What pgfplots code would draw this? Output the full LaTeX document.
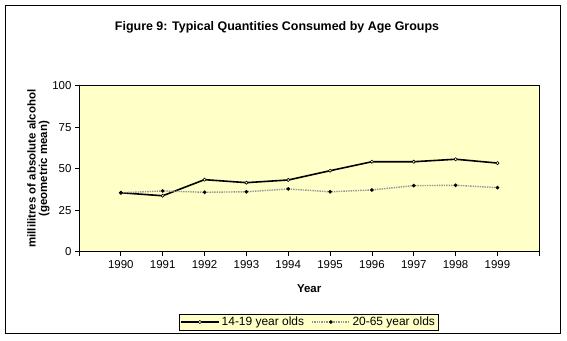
\documentclass[border=0pt]{standalone}
\usepackage{pgfplots}
\pgfplotsset{compat=1.18}
\usepackage{fontspec}
\setmainfont{Liberation Sans}
\definecolor{plotbg}{RGB}{255,255,200}
\definecolor{lgray}{RGB}{150,150,150}
\begin{document}
\begin{tikzpicture}[x=1bp,y=1bp]
\path[fill=white] (0,0) rectangle (567,340);
\draw[black, line width=0.8bp] (5,7) rectangle (560,335);
\node[font=\bfseries\fontsize{12.5}{14}\selectfont] at (277,313) {Figure 9: Typical Quantities Consumed by Age Groups};
\begin{axis}[
  at={(79bp,88.3bp)}, anchor=south west,
  scale only axis, width=460.3bp, height=166bp,
  xmin=-1, xmax=10, ymin=0, ymax=100,
  axis background/.style={fill=plotbg},
  axis line style={black, line width=0.8bp},
  xtick={-1,0,1,2,3,4,5,6,7,8,9,10},
  xticklabels={,1990,1991,1992,1993,1994,1995,1996,1997,1998,1999,},
  ytick={0,25,50,75,100},
  tick align=outside, tick pos=left,
  major tick length=4bp,
  tick style={black, line width=0.8bp},
  /pgf/number format/assume math mode=true,
  ticklabel style={font=\fontsize{11.5}{13}\selectfont},
  xticklabel style={yshift=-1bp},
  xlabel={Year},
  xlabel style={font=\bfseries\fontsize{11.5}{13}\selectfont, yshift=-9bp},
  ylabel={\shortstack{millilitres of absolute alcohol\\(geometric mean)}},
  ylabel style={font=\bfseries\fontsize{11.5}{13}\selectfont, yshift=-4bp},
  legend columns=2,
  legend style={at={(0.4986,-0.4235)}, anchor=center, fill=plotbg, draw=black,
    line width=0.8bp, font=\fontsize{12}{13}\selectfont, inner sep=1bp,
    /tikz/every even column/.append style={column sep=5bp}},
  legend cell align=left,
  legend image code/.code={\draw[mark repeat=2,mark phase=2,#1] plot coordinates {(0bp,0bp) (19bp,0bp) (38bp,0bp)};},
]
\addplot[black, line width=1.6bp, mark=*, mark size=1.6bp,
  mark options={fill=white, draw=black, line width=0.6bp}]
  coordinates {(0,35.5) (1,33.7) (2,43.4) (3,41.6) (4,43.2) (5,48.8) (6,54.2) (7,54.2) (8,55.7) (9,53.4)};
\addlegendentry{14-19 year olds}
\addplot[lgray, line width=1.4bp, densely dotted, mark=*, mark size=1bp,
  mark options={fill=black, draw=black, solid}]
  coordinates {(0,35.5) (1,36.6) (2,35.8) (3,36.1) (4,37.8) (5,36.1) (6,37.2) (7,39.8) (8,40.0) (9,38.6)};
\addlegendentry{20-65 year olds}
\end{axis}
\end{tikzpicture}
\end{document}
